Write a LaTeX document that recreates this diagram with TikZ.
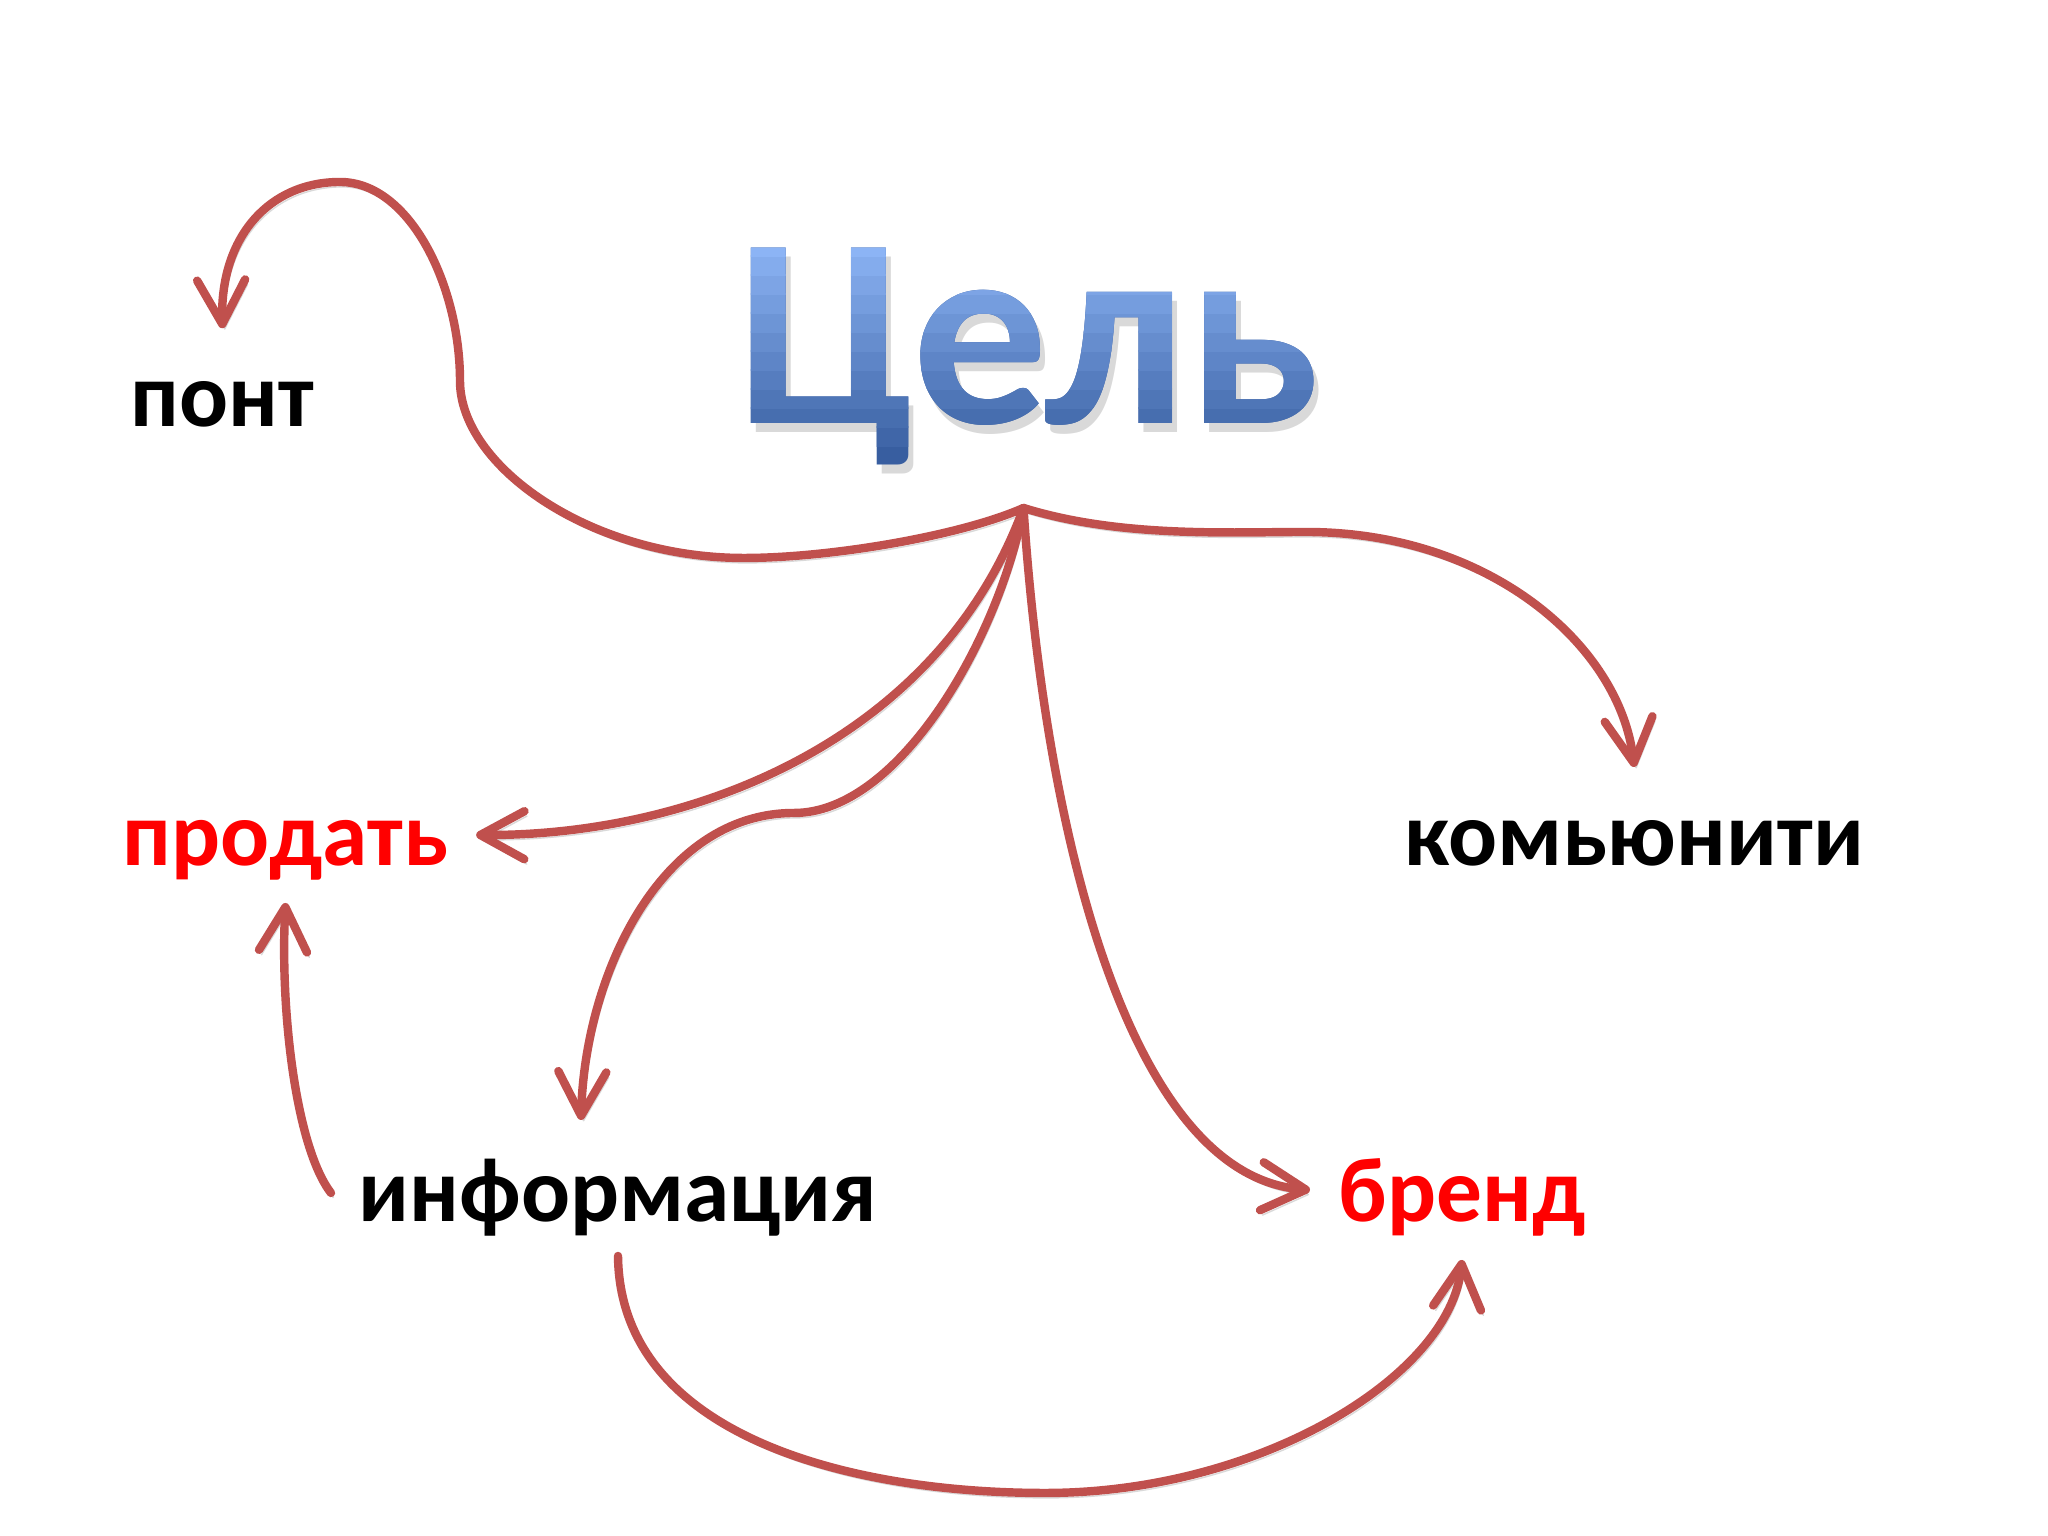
\documentclass[tikz,border=0pt]{standalone}
\usepackage{fontspec}
\setmainfont{Carlito}
\usepackage{tikz}
\usetikzlibrary{arrows.meta}
\definecolor{linered}{RGB}{192,80,77}
\definecolor{titletop}{RGB}{140,180,245}
\definecolor{titlebot}{RGB}{56,94,160}

\begin{document}
\begin{tikzpicture}[
  word/.style={font=\bfseries\fontsize{26}{31}\selectfont, inner sep=0pt, anchor=base west},
  title/.style={font=\bfseries\fontsize{77}{90}\selectfont, inner sep=0pt, anchor=base},
  link/.style={draw=linered, line width=2.4pt, line cap=round, line join=round,
    -{Straight Barb[length=4.4mm,width=4.8mm,round]},
    preaction={draw=black!15, transform canvas={shift={(0.7pt,-1.4pt)}}}}
]
\useasboundingbox (0,0) rectangle (20.48,15.36);
\coordinate (T) at (10.285,11.12);

%title: shadow, then gradient in bands%
\node[title,text=black!25,opacity=0.6] at ([shift={(0.05,-0.09)}]T) {Цель};
\node[title,text=titlebot] (goal) at (T) {Цель};
\foreach \i in {1,...,11}{
  \pgfmathsetmacro\pct{100*\i/11}
  \begin{scope}
    \clip (7,10.70+0.19*\i) rectangle (13.6,10.90+0.19*\i);
    \node[title,text=titletop!\pct!titlebot] at (T) {Цель};
  \end{scope}
}

%labels%
\node[word] (pont) at (1.30,11.09) {понт};
\node[word,text=red] (prodat) at (1.22,6.70) {продать};
\node[word] (komm) at (14.04,6.70) {комьюнити};
\node[word] (info) at (3.58,3.14) {информация};
\node[word,text=red] (brand) at (13.38,3.14) {бренд};

\coordinate (hub) at ([shift={(-0.05,-0.84)}]goal.base);

% цель -> понт
\draw[link] (hub) .. controls (9.6,10.0) and (8.3,9.78) .. (7.44,9.78)
  .. controls (5.9,9.78) and (4.6,10.7) .. (4.60,11.55)
  .. controls (4.60,12.5) and (4.1,13.54) .. (3.40,13.54)
  .. controls (2.7,13.54) and (2.2,13.0) .. ([yshift=5.3mm]pont.north);
% цель -> комьюнити
\draw[link] (hub) .. controls (11.2,9.98) and (12.3,10.04) .. (13.06,10.04)
  .. controls (14.9,10.04) and (16.2,8.9) .. ([yshift=9.9mm]komm.base);
% цель -> продать
\draw[link] (hub) .. controls (9.4,8.0) and (7.0,7.0) .. ([shift={(0.27,0.31)}]prodat.base east);
% цель -> информация
\draw[link] (hub) .. controls (10.0,9.0) and (9.0,7.23) .. (7.94,7.23)
  .. controls (6.6,7.23) and (5.85,5.6) .. ([shift={(2.23,1.02)}]info.base west);
% цель -> бренд
\draw[link] (hub) .. controls (10.45,7.0) and (11.3,3.6) .. ([shift={(-0.28,0.32)}]brand.base west);
% информация -> продать
\draw[link] ([shift={(-0.27,0.29)}]info.base west) .. controls (2.95,3.9) and (2.8,5.3) .. ([yshift=-3.7mm]prodat.base);
% информация -> бренд
\draw[link] ([yshift=-3.4mm]info.base) .. controls (6.2,1.0) and (8.5,0.43) .. (10.45,0.43)
  .. controls (12.6,0.43) and (14.5,1.6) .. ([yshift=-3.8mm]brand.base);

\end{tikzpicture}
\end{document}
